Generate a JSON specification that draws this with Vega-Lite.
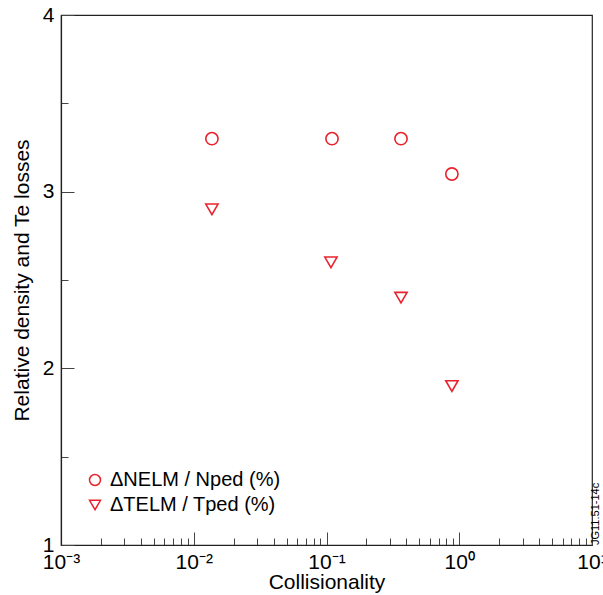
{
  "$schema": "https://vega.github.io/schema/vega-lite/v6.json",
  "width": 531,
  "height": 530,
  "autosize": "none",
  "padding": {"left": 61, "top": 15, "right": 11, "bottom": 50},
  "background": "white",
  "config": {
    "font": "Liberation Sans",
    "view": {"stroke": "#222222", "strokeWidth": 1.2},
    "axis": {
      "grid": false,
      "domainColor": "#222222",
      "domainWidth": 1.2,
      "tickColor": "#444444",
      "tickWidth": 1,
      "labelColor": "black",
      "titleColor": "black",
      "labelFont": "Liberation Sans",
      "titleFont": "Liberation Sans",
      "titleFontWeight": "normal",
      "labelFlush": false,
      "labelOverlap": false,
      "labelBound": false
    }
  },
  "title": {
    "text": "JG11.51-14c",
    "orient": "right",
    "angle": 270,
    "anchor": "end",
    "align": "left",
    "frame": "group",
    "baseline": "bottom",
    "fontSize": 11,
    "fontWeight": "normal",
    "font": "Liberation Sans",
    "color": "black",
    "offset": -17
  },
  "data": {
    "values": [
      {"collisionality": 0.0137, "value": 3.3, "series": "ΔNELM / Nped (%)"},
      {"collisionality": 0.110, "value": 3.3, "series": "ΔNELM / Nped (%)"},
      {"collisionality": 0.364, "value": 3.3, "series": "ΔNELM / Nped (%)"},
      {"collisionality": 0.88, "value": 3.1, "series": "ΔNELM / Nped (%)"},
      {"collisionality": 0.0137, "value": 2.9, "series": "ΔTELM / Tped (%)"},
      {"collisionality": 0.108, "value": 2.6, "series": "ΔTELM / Tped (%)"},
      {"collisionality": 0.364, "value": 2.4, "series": "ΔTELM / Tped (%)"},
      {"collisionality": 0.88, "value": 1.9, "series": "ΔTELM / Tped (%)"}
    ]
  },
  "mark": {"type": "point", "filled": false, "strokeWidth": 1.6, "size": 150, "opacity": 1},
  "encoding": {
    "x": {
      "field": "collisionality",
      "type": "quantitative",
      "scale": {"type": "log", "domain": [0.001, 10], "nice": false},
      "axis": {
        "title": "Collisionality",
        "titleFontSize": 21,
        "titlePadding": -7,
        "labelFontSize": 21,
        "labelPadding": 19,
        "values": [0.001, 0.002, 0.003, 0.004, 0.005, 0.006, 0.007, 0.008, 0.009, 0.01, 0.02, 0.03, 0.04, 0.05, 0.06, 0.07, 0.08, 0.09, 0.1, 0.2, 0.3, 0.4, 0.5, 0.6, 0.7, 0.8, 0.9, 1, 2, 3, 4, 5, 6, 7, 8, 9, 10],
        "labelExpr": "datum.value == 0.001 ? '10⁻³' : datum.value == 0.01 ? '10⁻²' : datum.value == 0.1 ? '10⁻¹' : datum.value == 1 ? '10⁰' : datum.value == 10 ? '10¹' : ''",
        "tickSize": {"condition": {"test": "indexof([0.001, 0.01, 0.1, 1, 10], datum.value) >= 0", "value": -13}, "value": -7}
      }
    },
    "y": {
      "field": "value",
      "type": "quantitative",
      "scale": {"domain": [1, 4], "nice": false, "zero": false},
      "axis": {
        "title": "Relative density and Te losses",
        "titleFontSize": 21,
        "titlePadding": 10,
        "labelFontSize": 21,
        "labelPadding": 20,
        "values": [1, 1.5, 2, 2.5, 3, 3.5, 4],
        "labelExpr": "datum.value % 1 == 0 ? format(datum.value, 'd') : ''",
        "tickSize": {"condition": {"test": "datum.value % 1 == 0", "value": -13}, "value": -7}
      }
    },
    "shape": {
      "field": "series",
      "type": "nominal",
      "scale": {"domain": ["ΔNELM / Nped (%)", "ΔTELM / Tped (%)"], "range": ["circle", "triangle-down"]},
      "legend": {"title": null, "orient": "none", "legendX": 24, "legendY": 455, "labelFontSize": 20, "labelLimit": 400, "labelFont": "Liberation Sans", "labelColor": "black", "symbolSize": 120, "symbolStrokeWidth": 1.5, "symbolOpacity": 1, "rowPadding": 5, "labelOffset": 5, "padding": 0}
    },
    "color": {
      "field": "series",
      "type": "nominal",
      "scale": {"domain": ["ΔNELM / Nped (%)", "ΔTELM / Tped (%)"], "range": ["#e8232b", "#e8232b"]},
      "legend": {"title": null, "orient": "none", "legendX": 24, "legendY": 455, "labelFontSize": 20, "labelLimit": 400, "labelFont": "Liberation Sans", "labelColor": "black", "symbolSize": 120, "symbolStrokeWidth": 1.5, "symbolOpacity": 1, "rowPadding": 5, "labelOffset": 5, "padding": 0}
    }
  }
}
